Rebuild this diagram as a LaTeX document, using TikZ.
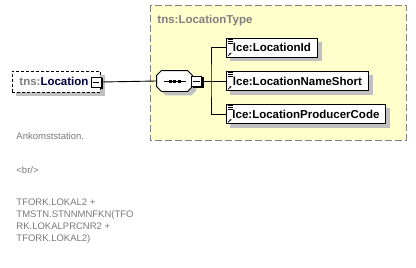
\documentclass[tikz,border=0pt]{standalone}
\usepackage{fontspec}
\setmainfont{Liberation Sans}
\usetikzlibrary{positioning, calc, backgrounds, arrows.meta}
\definecolor{typefill}{RGB}{255,255,204}
\definecolor{typeedge}{RGB}{128,128,128}
\definecolor{nsgray}{RGB}{128,128,128}
\definecolor{shadegray}{RGB}{192,192,192}
\definecolor{notegray}{RGB}{120,120,128}
\definecolor{namenavy}{RGB}{0,0,64}

\tikzset{
  boldlabel/.style={font=\bfseries\fontsize{11.5}{13}\selectfont},
  elembox/.style={draw, fill=white, boldlabel, inner sep=0pt, minimum height=19pt, anchor=west},
  minusbox/.style={draw, fill=white, inner sep=0pt, minimum size=10pt},
  notetext/.style={anchor=base west, align=left, inner sep=0pt, text=notegray, font=\fontsize{9.5}{12}\selectfont},
}

\begin{document}
\begin{tikzpicture}[x=1pt, y=-1pt, line width=0.9pt]
    \useasboundingbox (0,0) rectangle (416,268);

    \node[anchor=base west, inner sep=0pt, text=nsgray, boldlabel] (typename) at (157,23) {tns:LocationType};

    % Root element
    \node[draw, dash pattern=on 3pt off 2pt, fill=white, boldlabel, minimum width=88pt, minimum height=21pt,
      text width=74pt, inner xsep=7pt, inner ysep=0pt, align=left, anchor=west] (loc) at (12,81.5)
      {\textcolor{nsgray}{tns:}\textcolor{namenavy}{Location}};
    \node[minusbox] (locminus) at (96,82) {};
    \draw ([xshift=2pt]locminus.west) -- ([xshift=-2pt]locminus.east);

    % Sequence compositor
    \node[minimum width=35pt, minimum height=20pt, inner sep=0pt] (seq) at (174.5,81) {};
    \filldraw[fill=white] ($(seq.north west)+(5,0)$) -- ($(seq.north east)+(-5,0)$) -- ($(seq.north east)+(0,5)$)
      -- ($(seq.south east)+(0,-5)$) -- ($(seq.south east)+(-5,0)$) -- ($(seq.south west)+(5,0)$)
      -- ($(seq.south west)+(0,-5)$) -- ($(seq.north west)+(0,5)$) -- cycle;
    \draw ([xshift=-11pt]seq.center) -- ([xshift=11pt]seq.center);
    \foreach \dx in {-4.5,0,4.5}
        \fill ($(seq.center)+(\dx,0)+(-1.5,-1.5)$) rectangle ($(seq.center)+(\dx,0)+(1.5,1.5)$);
    \node[minusbox, right=-1pt of seq] (seqminus) {};
    \draw ([xshift=2pt]seqminus.west) -- ([xshift=-2pt]seqminus.east);

    % Child elements
    \node[elembox, minimum width=91pt] (locid) at (226,47.5) {lce:LocationId};
    \node[elembox, minimum width=142pt] (locname) at (226,81) {lce:LocationNameShort};
    \node[elembox, minimum width=159pt] (locprod) at (226,114) {lce:LocationProducerCode};
    \foreach \e in {locid, locname, locprod} {
        \foreach \dy in {1.5,3.6,5.7}
            \draw[line width=0.6pt] ($(\e.north west)+(1.5,\dy)$) -- ++(5,0);
        \draw[-{Stealth[length=2.5pt]}, line width=0.7pt] ($(\e.south west)+(2,-1.5)$) -- ++(3.5,-3.5);
    }

    % Connectors
    \coordinate (fork) at (211,81);
    \draw (locminus.east) -- (seq.west);
    \draw (seqminus.east) -- (fork);
    \draw (locid.west) -| (fork) |- (locprod.west);
    \draw (fork) -- (locname.west);

    % Frame and shadows
    \begin{scope}[on background layer]
        \draw[typeedge, fill=typefill, dash pattern=on 7pt off 3pt] (150,5) rectangle (406,140);
        \foreach \n in {loc, locid, locname, locprod}
            \fill[shadegray] ($(\n.north west)+(4,4)$) rectangle ($(\n.south east)+(4,4)$);
        \fill[shadegray] ($(seq.north west)+(9,4)$) -- ($(seq.north east)+(-1,4)$) -- ($(seq.north east)+(4,9)$)
          -- ($(seq.south east)+(4,-1)$) -- ($(seq.south east)+(-1,4)$) -- ($(seq.south west)+(9,4)$)
          -- ($(seq.south west)+(4,-1)$) -- ($(seq.north west)+(4,9)$) -- cycle;
        \foreach \n in {locminus, seqminus}
            \fill ($(\n.north west)+(1.5,1.5)$) rectangle ($(\n.south east)+(1.5,1.5)$);
    \end{scope}

    % Annotation
    \node[notetext] (note1) at (16,139) {Ankomststation.};
    \node[notetext] (note2) at (16,173) {<br/>};
    \node[notetext] (note3) at (16,241) {TFORK.LOKAL2 +\\TMSTN.STNNMNFKN(TFO\\RK.LOKALPRCNR2 +\\TFORK.LOKAL2)};
\end{tikzpicture}
\end{document}
